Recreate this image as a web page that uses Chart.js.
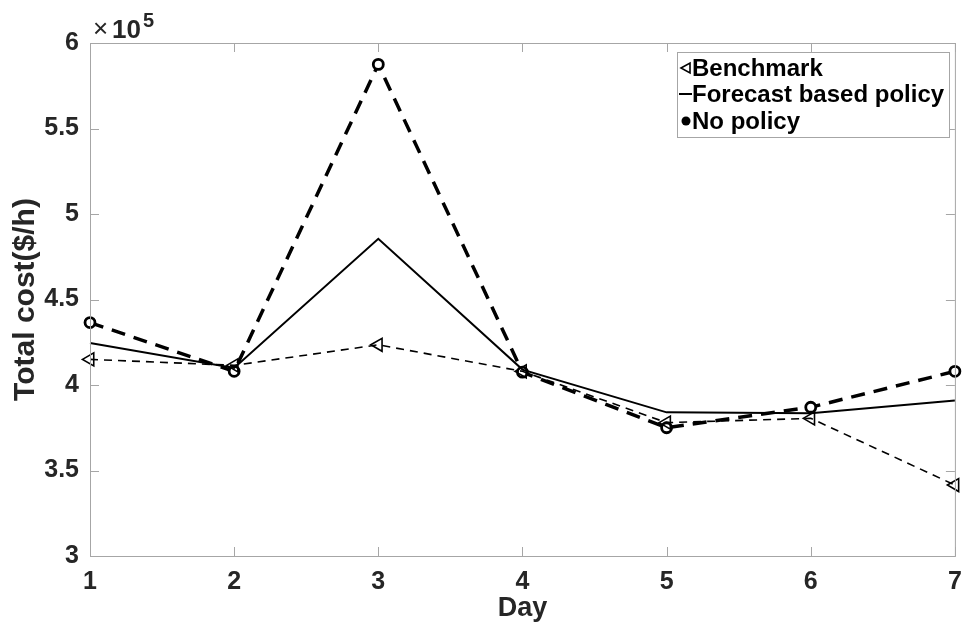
<!DOCTYPE html>
<html>
<head>
<meta charset="utf-8">
<script src="https://cdn.jsdelivr.net/npm/chart.js@4.4.1/dist/chart.umd.min.js"></script>
<style>
  html, body { margin: 0; padding: 0; background: #fff; }
  #wrap { width: 964px; height: 630px; position: relative; }
</style>
</head>
<body>
<div id="wrap"><canvas id="chart" width="964" height="630"></canvas></div>
<script>
const days = ['1', '2', '3', '4', '5', '6', '7'];
const benchmark = [415000, 411500, 423500, 408000, 378000, 380500, 341500];
const forecastPolicy = [424500, 410000, 485500, 409000, 384000, 383500, 391000];
const noPolicy = [436500, 408000, 587500, 407500, 375000, 387000, 408000];
const seriesNames = ['Benchmark', 'Forecast based policy', 'No policy'];
const yTicks = [300000, 350000, 400000, 450000, 500000, 550000, 600000];

const FONT = '"Liberation Sans", Arial, Helvetica, sans-serif';
const TEXT = '#262626';
const AXIS = '#a6a6a6';

// matlab-style box with inward ticks, exponent label and legend
const boxPlugin = {
    id: 'boxPlugin',
    afterDraw(chart) {
        const { ctx, chartArea: a, scales } = chart;
        ctx.save();
        ctx.strokeStyle = AXIS;
        ctx.lineWidth = 1;
        ctx.strokeRect(a.left + 0.5, a.top + 0.5, a.right - a.left, a.bottom - a.top);
        const tl = 9;
        ctx.beginPath();
        scales.x.ticks.forEach((t, i) => {
            const x = Math.round(scales.x.getPixelForTick(i)) + 0.5;
            ctx.moveTo(x, a.bottom); ctx.lineTo(x, a.bottom - tl);
            ctx.moveTo(x, a.top); ctx.lineTo(x, a.top + tl);
        });
        yTicks.forEach(v => {
            const y = Math.round(scales.y.getPixelForValue(v)) + 0.5;
            ctx.moveTo(a.left, y); ctx.lineTo(a.left + tl, y);
            ctx.moveTo(a.right, y); ctx.lineTo(a.right - tl, y);
        });
        ctx.stroke();

        // x10^5
        ctx.fillStyle = TEXT;
        ctx.textBaseline = 'alphabetic';
        ctx.textAlign = 'left';
        ctx.font = '26px ' + FONT;
        ctx.fillText('\u00d7', 93, 37);
        ctx.font = 'bold 26px ' + FONT;
        ctx.fillText('10', 112, 38);
        ctx.font = 'bold 20px ' + FONT;
        ctx.fillText('5', 143, 27);

        // legend
        const lx = 677, ly = 52, lw = 272, lh = 85;
        ctx.fillStyle = '#fff';
        ctx.fillRect(lx, ly, lw, lh);
        ctx.strokeStyle = AXIS;
        ctx.strokeRect(lx + 0.5, ly + 0.5, lw, lh);
        const rows = [68, 94, 121];
        chart.data.datasets.forEach((ds, i) => {
            const y = rows[i];
            ctx.strokeStyle = '#000';
            ctx.lineWidth = ds.pointBorderWidth;
            ctx.setLineDash([]);
            if (ds.pointStyle === 'triangle') {
                ctx.beginPath();
                ctx.moveTo(681, y);
                ctx.lineTo(690, y - 5);
                ctx.lineTo(690, y + 5);
                ctx.closePath();
                ctx.stroke();
            } else if (ds.pointStyle === 'circle') {
                ctx.beginPath();
                ctx.arc(686, y, 4.5, 0, Math.PI * 2);
                ctx.fillStyle = '#000';
                ctx.fill();
            } else {
                ctx.lineWidth = 2;
                ctx.beginPath();
                ctx.moveTo(679, y); ctx.lineTo(692, y);
                ctx.stroke();
            }
            ctx.fillStyle = '#000';
            ctx.font = 'bold 24px ' + FONT;
            ctx.textBaseline = 'middle';
            ctx.fillText(ds.label, 692, y + 1);
        });
        ctx.restore();
    }
};

const ctx = document.getElementById('chart');
const chart = new Chart(ctx, {
    type: 'line',
    data: {
        labels: days,
        datasets: [
            {
                label: seriesNames[0],
                data: benchmark,
                borderColor: '#000',
                borderWidth: 1.6,
                borderDash: [8, 6],
                pointStyle: 'triangle',
                rotation: -90,
                pointRadius: 7.5,
                pointBorderWidth: 1.6,
                pointBorderColor: '#000',
                pointBackgroundColor: 'rgba(0,0,0,0)',
                tension: 0
            },
            {
                label: seriesNames[1],
                data: forecastPolicy,
                borderColor: '#000',
                borderWidth: 2,
                pointRadius: 0,
                pointStyle: false,
                pointBorderWidth: 2,
                tension: 0
            },
            {
                label: seriesNames[2],
                data: noPolicy,
                borderColor: '#000',
                borderWidth: 3.5,
                borderDash: [14, 9],
                pointStyle: 'circle',
                pointRadius: 5,
                pointBorderWidth: 2.8,
                pointBorderColor: '#000',
                pointBackgroundColor: '#fff',
                tension: 0
            }
        ]
    },
    options: {
        responsive: false,
        animation: false,
        layout: { padding: { top: 43, right: 7, left: 0, bottom: 0 } },
        plugins: {
            legend: { display: false },
            tooltip: { enabled: false }
        },
        scales: {
            x: {
                type: 'category',
                offset: false,
                grid: { display: false },
                border: { display: false },
                ticks: {
                    color: TEXT,
                    font: { family: FONT, size: 25, weight: 'bold' },
                    padding: 3,
                    maxRotation: 0
                },
                title: {
                    display: true,
                    text: 'Day',
                    color: TEXT,
                    font: { family: FONT, size: 27, weight: 'bold' },
                    padding: { top: 0, bottom: 5 }
                },
                afterFit(scale) {
                    scale.height = 74;
                    scale.paddingLeft = 0;
                    scale.paddingRight = 0;
                }
            },
            y: {
                min: 300000,
                max: 600000,
                grid: { display: false },
                border: { display: false },
                afterBuildTicks(scale) {
                    scale.ticks = yTicks.map(v => ({ value: v }));
                },
                ticks: {
                    color: TEXT,
                    font: { family: FONT, size: 25, weight: 'bold' },
                    padding: 3,
                    callback: v => String(v / 100000)
                },
                title: {
                    display: true,
                    text: 'Total cost($/h)',
                    color: TEXT,
                    font: { family: FONT, size: 30, weight: 'bold' },
                    padding: { top: 8, bottom: 0 }
                },
                afterFit(scale) { scale.width = 90; }
            }
        }
    },
    plugins: [boxPlugin]
});
</script>
</body>
</html>
